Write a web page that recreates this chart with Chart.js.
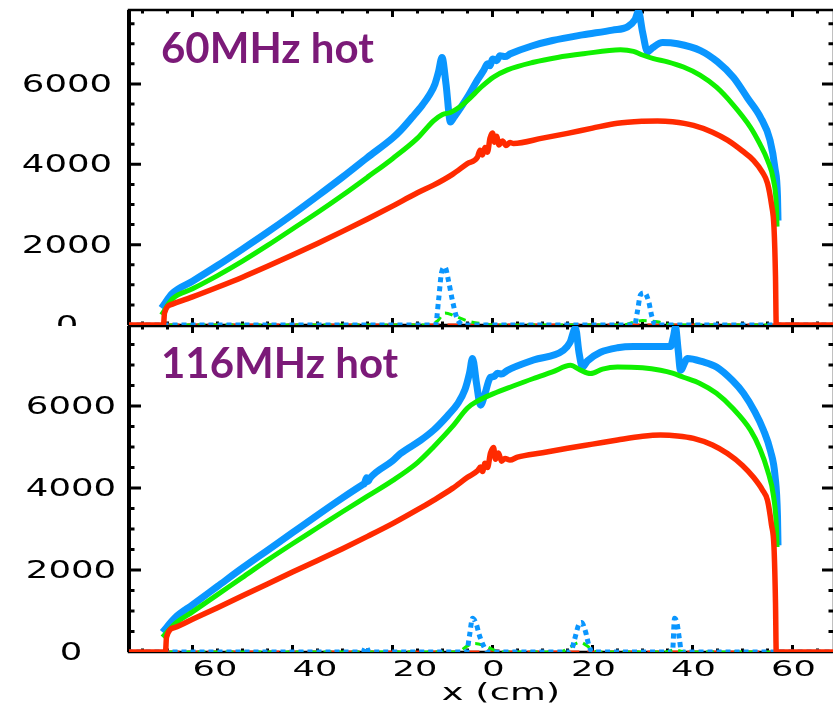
<!DOCTYPE html>
<html lang="en">
<head>
    <meta charset="UTF-8">
    <title>60MHz / 116MHz hot</title>
    <script src="https://cdn.jsdelivr.net/npm/chart.js"></script>
    <style>
        body { margin: 0; background: #fff; }
        #wrap { position: relative; width: 833px; height: 708px; overflow: hidden; background: #fff; }
        #wrap canvas { position: absolute; left: 0; }
    </style>
</head>
<body>
    <div id="wrap">
        <canvas id="top" width="840" height="326" style="top:0"></canvas>
        <canvas id="bottom" width="840" height="382" style="top:326px"></canvas>
    </div>
    <script>
        // tick labels
        const xTicks = [-60, -40, -20, 0, 20, 40, 60];
        const yTicks = [0, 2000, 4000, 6000];
        const panelTitles = ['60MHz hot', '116MHz hot'];

        // ---- 60MHz panel ----
        const blue60X = [-66.2, -64, -60, -55, -50, -45, -40, -35, -30, -25, -20, -18.4, -16, -14, -12.5, -11.5, -10.8, -10.1, -9.3, -8.4, -7.8, -5, -3, -1.8, -1, -0.5, 0, 0.8, 1.5, 2.5, 3.6, 8, 12, 18, 24, 27, 28.5, 29.2, 30, 31, 32, 34, 37, 41.6, 45, 48.2, 51, 53.6, 55.5, 56.5, 57, 57.1];
        const blue60Y = [420, 790, 1090, 1480, 1890, 2310, 2750, 3210, 3680, 4170, 4650, 4840, 5180, 5480, 5750, 6000, 6300, 6660, 6000, 5050, 5150, 5670, 6100, 6330, 6500, 6450, 6620, 6580, 6700, 6680, 6750, 6950, 7080, 7220, 7340, 7420, 7600, 7800, 7300, 6800, 6900, 7030, 7000, 6830, 6550, 6160, 5650, 5170, 4600, 3900, 3200, 2600];
        const green60X = [-66.2, -64, -60, -55, -50, -45, -40, -35, -30, -25, -20, -15, -11.8, -10, -8.4, -6.5, -5, -2, 0.2, 3, 8.2, 13, 18.2, 25.6, 28.2, 30, 32.2, 35, 38.2, 41.5, 44.8, 48, 51.6, 53.5, 55, 56.2, 56.8, 56.9];
        const green60Y = [250, 650, 900, 1230, 1590, 1980, 2390, 2800, 3230, 3680, 4140, 4650, 5080, 5240, 5290, 5430, 5590, 5950, 6170, 6350, 6540, 6660, 6750, 6850, 6810, 6720, 6630, 6550, 6420, 6220, 5920, 5500, 4920, 4500, 4100, 3600, 2900, 2450];
        const red60X = [-75, -65.8, -65.6, -64, -60, -55, -50, -45, -40, -35, -30, -25, -20, -15, -11.8, -8, -5, -3, -2.5, -2, -1.5, -1, -0.5, 0, 0.4, 0.8, 1.3, 2, 2.7, 3.5, 4.2, 10, 15, 20, 25, 30, 33, 36, 40.2, 44, 47, 50, 52.2, 54, 55, 55.8, 56.3, 56.6, 56.75, 75];
        const red60Y = [0, 0, 300, 520, 700, 940, 1190, 1460, 1740, 2030, 2330, 2640, 2960, 3290, 3480, 3750, 4020, 4180, 4350, 4230, 4420, 4300, 4650, 4780, 4550, 4700, 4480, 4580, 4470, 4540, 4520, 4650, 4770, 4900, 5020, 5070, 5080, 5060, 4970, 4800, 4600, 4330, 4100, 3800, 3530, 3000, 2430, 1200, 0, 0];
        const blueDot60X = [-73, -11.4, -10.8, -10.2, -9.5, -8.8, -8, -7.2, -6.5, -5.5, 28.4, 29, 29.6, 30.4, 31.2, 31.9, 32.6, 69];
        const blueDot60Y = [0, 0, 600, 1300, 1440, 1100, 600, 200, 50, 0, 0, 350, 750, 800, 600, 200, 0, 0];
        const greenDash60X = [-73, -13, -11, -9.5, -7.5, -5, -2, 0, 26, 28, 30, 33, 36, 69];
        const greenDash60Y = [0, 0, 100, 300, 220, 100, 30, 0, 0, 60, 110, 80, 0, 0];
        const redDash60X = [-73, 69];
        const redDash60Y = [0, 0];

        // ---- 116MHz panel ----
        const blue116X = [-66, -63.4, -60, -55, -50, -45, -40, -35, -30, -26, -25.6, -25.2, -24.9, -24.5, -20, -18.4, -14.4, -11.7, -9, -7, -5.5, -4.6, -4, -3.2, -2.4, -1.5, -0.8, -0.4, 0.3, 1, 1.8, 3, 8.2, 14.2, 15.5, 16.6, 17.3, 18, 19, 21.6, 25, 28.2, 35.6, 36.2, 36.6, 37.1, 37.6, 39, 42, 44.8, 48, 50.2, 52.5, 54.2, 55.6, 56.5, 57, 57.1];
        const blue116Y = [480, 845, 1150, 1600, 2050, 2480, 2910, 3340, 3760, 4080, 4110, 4250, 4160, 4240, 4660, 4840, 5160, 5420, 5760, 6050, 6400, 6800, 7160, 6550, 6020, 6300, 6600, 6700, 6720, 6800, 6780, 6870, 7120, 7360, 7550, 7900, 7300, 6950, 7100, 7310, 7420, 7450, 7450, 7700, 7920, 7400, 6870, 7160, 7080, 6950, 6620, 6310, 5850, 5410, 4900, 4300, 3300, 2600];
        const green116X = [-66, -63.4, -60, -55, -50, -45, -40, -35, -30, -25, -20, -15, -11.8, -8, -5, -3, 0.2, 4, 8.2, 12, 15.6, 17.5, 19.6, 22, 25, 30, 33.6, 36, 38.2, 41.5, 44.8, 48, 51.6, 53.5, 55, 56.2, 56.8, 56.9];
        const green116Y = [360, 700, 980, 1400, 1820, 2240, 2640, 3030, 3420, 3800, 4180, 4620, 5000, 5500, 5950, 6120, 6300, 6480, 6670, 6830, 6990, 6880, 6790, 6900, 6950, 6930, 6870, 6800, 6700, 6550, 6310, 5950, 5410, 4950, 4430, 3800, 3000, 2560];
        const red116X = [-75, -65.4, -65.2, -63.5, -60, -55, -50, -45, -40, -35, -30, -25, -20, -15, -11.8, -8, -5, -3, -2.4, -2, -1.5, -1, -0.4, 0.2, 0.6, 1.2, 1.8, 2.5, 3.5, 5, 10, 15, 20, 25, 30, 33.6, 37, 40.2, 44, 47, 50, 52.2, 54, 55, 55.8, 56.3, 56.6, 56.75, 75];
        const red116Y = [0, 0, 360, 600, 800, 1080, 1370, 1660, 1950, 2230, 2520, 2820, 3130, 3470, 3700, 3990, 4260, 4420, 4510, 4400, 4600, 4500, 4850, 4990, 4700, 4850, 4650, 4720, 4680, 4750, 4860, 4970, 5070, 5170, 5260, 5290, 5270, 5210, 5050, 4840, 4550, 4260, 3950, 3700, 3100, 2560, 1200, 0, 0];
        const blueDot116X = [-73, -26, -25.3, -24.6, -5.2, -4.6, -4, -3.3, -2.6, -1.8, -1, 15.6, 16.4, 17.2, 17.8, 18.6, 19.3, 20, 36, 36.4, 36.9, 37.4, 37.8, 69];
        const blueDot116Y = [0, 0, 120, 0, 0, 400, 820, 700, 400, 150, 0, 0, 300, 650, 720, 500, 150, 0, 0, 820, 700, 300, 0, 0];
        const greenDash116X = [-73, -7, -5, -3.5, -1.5, 0.5, 2, 13.5, 15.5, 17.5, 19.5, 21, 34.5, 36.5, 38.5, 69];
        const greenDash116Y = [0, 0, 150, 210, 150, 40, 0, 0, 120, 240, 100, 0, 0, 50, 0, 0];
        const redDash116X = [-73, -3, 0, 3, 69];
        const redDash116Y = [0, 0, 40, 0, 0];

        const BLUE = '#0a96ff';
        const GREEN = '#10f000';
        const RED = '#ff2a00';
        const PURPLE = '#7b1a78';

        function pts(xs, ys) {
            return xs.map((x, i) => ({ x: x, y: ys[i] }));
        }

        // IDL style wide text
        function wideText(ctx, str, x, y, size, sx, align) {
            ctx.save();
            ctx.translate(x, y);
            ctx.scale(sx, 1);
            ctx.font = size + 'px "DejaVu Sans"';
            ctx.textAlign = align;
            ctx.textBaseline = 'middle';
            ctx.fillStyle = '#000';
            ctx.fillText(str, 0, 0);
            ctx.restore();
        }

        // box, inward ticks, labels
        const framePlugin = {
            id: 'frame',
            beforeDatasetsDraw(chart) {
                const { ctx, chartArea: a, scales: { x, y } } = chart;
                ctx.save();
                ctx.strokeStyle = '#000';
                ctx.lineWidth = 2.5;
                ctx.strokeRect(a.left, a.top, a.right - a.left, a.bottom - a.top);
                ctx.lineWidth = 4;
                ctx.beginPath();
                ctx.moveTo(a.left, a.top);
                ctx.lineTo(a.left, a.bottom);
                ctx.stroke();
                ctx.lineWidth = 3;
                ctx.beginPath();
                for (let v = Math.ceil(x.min / 5) * 5; v <= x.max; v += 5) {
                    const px = x.getPixelForValue(v);
                    const len = v % 20 === 0 ? 7 : 3.5;
                    ctx.moveTo(px, a.top); ctx.lineTo(px, a.top + len);
                    ctx.moveTo(px, a.bottom); ctx.lineTo(px, a.bottom - len);
                }
                for (let v = 500; v < y.max; v += 500) {
                    const py = y.getPixelForValue(v);
                    const len = v % 2000 === 0 ? 12 : 5.5;
                    ctx.moveTo(a.left, py); ctx.lineTo(a.left + len, py);
                    ctx.moveTo(a.right, py); ctx.lineTo(a.right - len, py);
                }
                ctx.stroke();
                ctx.restore();
            },
            afterDraw(chart, args, opts) {
                const { ctx, chartArea: a, scales: { x, y } } = chart;
                yTicks.forEach(v => {
                    wideText(ctx, String(v), opts.yLabelX, y.getPixelForValue(v) + 1.5, 25, 1.42, 'center');
                });
                if (opts.xLabels) {
                    xTicks.forEach(v => {
                        const px = x.getPixelForValue(v);
                        if (v < 0) wideText(ctx, String(-v), px, a.bottom + 18, 22, 1.6, 'left');
                        else wideText(ctx, String(v), px + 1, a.bottom + 18, 22, 1.6, 'center');
                    });
                    wideText(ctx, 'x (cm)', 501, a.bottom + 42, 23, 1.6, 'center');
                }
                ctx.save();
                ctx.fillStyle = PURPLE;
                ctx.font = 'bold 42px Lato';
                ctx.textAlign = 'left';
                ctx.textBaseline = 'alphabetic';
                ctx.fillText(opts.title, a.left + 32, a.top + opts.titleDy);
                ctx.restore();
            }
        };

        function makeChart(id, d, yMax, pad, opts) {
            const solid = (data, color, w) => ({ data: data, borderColor: color, borderWidth: w, pointRadius: 0, tension: 0.3, cubicInterpolationMode: 'monotone', fill: false });
            const dashed = (data, color, w, dash) => ({ data: data, borderColor: color, borderWidth: w, borderDash: dash, pointRadius: 0, tension: 0.3, cubicInterpolationMode: 'monotone', fill: false });
            return new Chart(document.getElementById(id), {
                type: 'line',
                data: {
                    datasets: [
                        solid(d.red, RED, 5.5),
                        solid(d.green, GREEN, 5),
                        solid(d.blue, BLUE, 7),
                        dashed(d.blueDot, BLUE, 5, [5, 4]),
                        dashed(d.greenDash, GREEN, 3, [8, 6]),
                        dashed(d.redDash, RED, 3, [12, 8])
                    ]
                },
                options: {
                    responsive: false,
                    animation: false,
                    events: [],
                    layout: { padding: pad },
                    plugins: { legend: { display: false }, tooltip: { enabled: false }, frame: opts },
                    scales: {
                        x: { type: 'linear', min: -72.7, max: 68.3, display: false },
                        y: { type: 'linear', min: 0, max: yMax, display: false }
                    }
                },
                plugins: [framePlugin]
            });
        }

        makeChart('top', {
            blue: pts(blue60X, blue60Y), green: pts(green60X, green60Y), red: pts(red60X, red60Y),
            blueDot: pts(blueDot60X, blueDot60Y), greenDash: pts(greenDash60X, greenDash60Y), redDash: pts(redDash60X, redDash60Y)
        }, 7840, { left: 129, right: 6, top: 10, bottom: 1 }, { title: panelTitles[0], titleDy: 53, yLabelX: 67, xLabels: false });

        makeChart('bottom', {
            blue: pts(blue116X, blue116Y), green: pts(green116X, green116Y), red: pts(red116X, red116Y),
            blueDot: pts(blueDot116X, blueDot116Y), greenDash: pts(greenDash116X, greenDash116Y), redDash: pts(redDash116X, redDash116Y)
        }, 7950, { left: 129, right: 6, top: 0, bottom: 56 }, { title: panelTitles[1], titleDy: 52, yLabelX: 71, xLabels: true });
    </script>
</body>
</html>
